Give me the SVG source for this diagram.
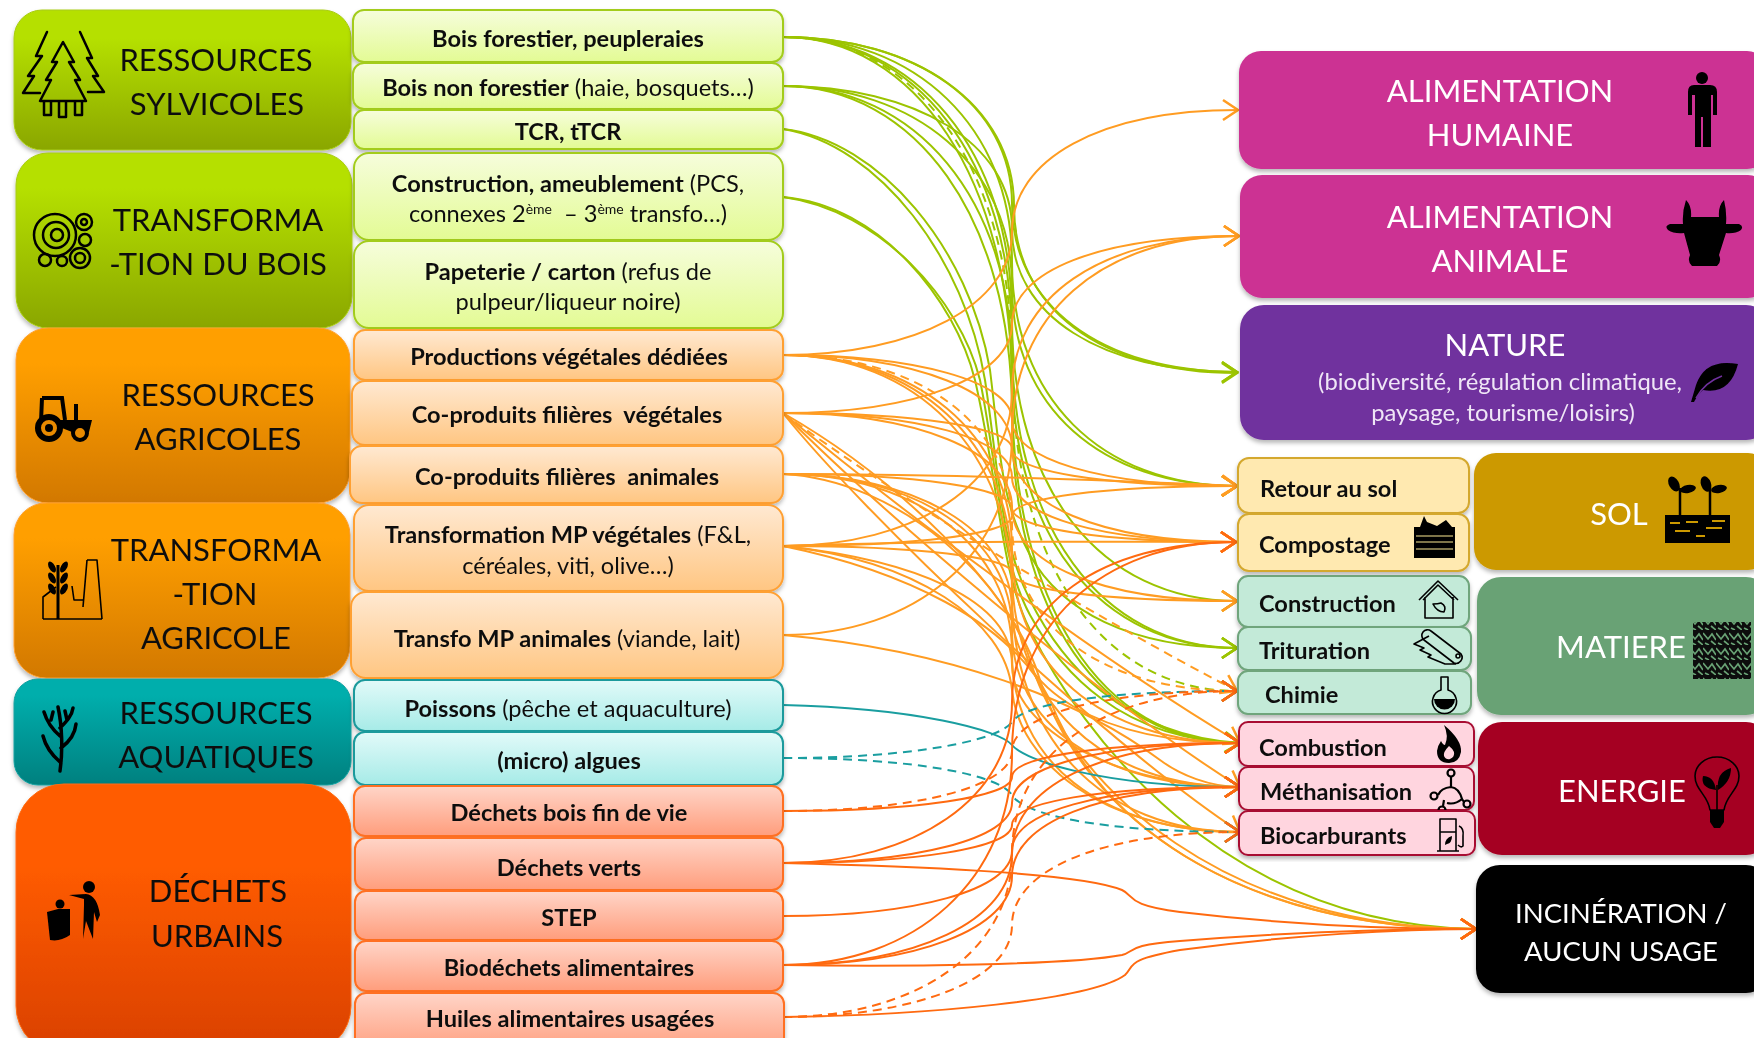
<svg xmlns="http://www.w3.org/2000/svg" width="1754" height="1038" viewBox="0 0 1754 1038">
<style>
text{font-family:"Lato","Noto Sans",sans-serif;fill:#111}
.t{font-size:31px;text-anchor:middle}
.w{font-size:31px;text-anchor:middle;fill:#fff}
.i{font-size:27.5px}
.m{font-size:23.6px;text-anchor:middle;white-space:pre}
.b{font-weight:700}
.s{font-size:23.6px;font-weight:700}
.n{font-size:23.8px;text-anchor:middle;fill:#efe6f6}
.sup{font-size:14px}
.c{fill:none;stroke-width:2}
.g{stroke:#9cc400;marker-end:url(#ag)}
.o{stroke:#ff9c22;marker-end:url(#ao)}
.r{stroke:#ff6a10;marker-end:url(#ar)}
.e{stroke:#1a9ea0;marker-end:url(#ae)}
.d{stroke-dasharray:9 6}
.sh{filter:url(#sh)}
.k{fill:#000}
.l{fill:none;stroke:#000;stroke-width:2.5;stroke-linecap:round;stroke-linejoin:round}
.l2{fill:none;stroke:#000;stroke-width:1.6;stroke-linejoin:round}
</style>
<defs>
<filter id="sh" x="-5%" y="-10%" width="110%" height="125%"><feDropShadow dx="0" dy="3" stdDeviation="2" flood-color="#000" flood-opacity=".28"/></filter>
<linearGradient id="fg" x1="0" y1="0" x2="0" y2="1"><stop offset=".2" stop-color="#b5e000"/><stop offset="1" stop-color="#8aa600"/></linearGradient>
<linearGradient id="fo" x1="0" y1="0" x2="0" y2="1"><stop offset=".2" stop-color="#ff9f00"/><stop offset="1" stop-color="#d27800"/></linearGradient>
<linearGradient id="ft" x1="0" y1="0" x2="0" y2="1"><stop offset=".15" stop-color="#00aeac"/><stop offset="1" stop-color="#00807f"/></linearGradient>
<linearGradient id="fr" x1="0" y1="0" x2="0" y2="1"><stop offset=".3" stop-color="#ff5c00"/><stop offset="1" stop-color="#d94000"/></linearGradient>
<linearGradient id="lg" x1="0" y1="0" x2="0" y2="1"><stop offset="0" stop-color="#f6fddc"/><stop offset="1" stop-color="#e3fb94"/></linearGradient>
<linearGradient id="lo" x1="0" y1="0" x2="0" y2="1"><stop offset="0" stop-color="#ffe9d2"/><stop offset="1" stop-color="#ffc682"/></linearGradient>
<linearGradient id="lt" x1="0" y1="0" x2="0" y2="1"><stop offset="0" stop-color="#e2faf9"/><stop offset="1" stop-color="#a6ebe7"/></linearGradient>
<linearGradient id="lr" x1="0" y1="0" x2="0" y2="1"><stop offset="0" stop-color="#ffd5c8"/><stop offset="1" stop-color="#ff9d7c"/></linearGradient>
<marker id="ag" markerUnits="userSpaceOnUse" markerWidth="22" markerHeight="26" refX="18" refY="12" orient="auto"><path d="M3 2L18 12L3 22" fill="none" stroke="#9cc400" stroke-width="2.5"/></marker>
<marker id="ao" markerUnits="userSpaceOnUse" markerWidth="22" markerHeight="26" refX="18" refY="12" orient="auto"><path d="M3 2L18 12L3 22" fill="none" stroke="#ff9c22" stroke-width="2.5"/></marker>
<marker id="ar" markerUnits="userSpaceOnUse" markerWidth="22" markerHeight="26" refX="18" refY="12" orient="auto"><path d="M3 2L18 12L3 22" fill="none" stroke="#ff6a10" stroke-width="2.5"/></marker>
<marker id="ae" markerUnits="userSpaceOnUse" markerWidth="22" markerHeight="26" refX="18" refY="12" orient="auto"><path d="M3 2L18 12L3 22" fill="none" stroke="#1a9ea0" stroke-width="2.5"/></marker>
<pattern id="tex" width="13" height="15" patternUnits="userSpaceOnUse"><rect width="13" height="15" fill="#0b0b0b"/><path d="M0 3L5 9L9 4L13 10M2 13L6 15M8 11L13 15" fill="none" stroke="#69a274" stroke-width="1.7"/></pattern>
</defs>

<g id="connectors">
<g class="c">
<path class="g" d="M783 37C915 37 1012 104 1012 204S1100 372 1237 372"/>
<path class="g" d="M783 37C915 37 1014 104 1014 206S1100 373 1237 373"/>
<path class="g" d="M783 86C915 86 1012 143 1012 229S1100 372 1237 372"/>
<path class="g" d="M783 37C915 37 1012 127 1012 262S1100 486 1237 486"/>
<path class="g" d="M783 86C915 86 1012 166 1012 286S1100 486 1237 486"/>
<path class="g" d="M783 37C915 37 1012 150 1012 319S1100 601 1237 601"/>
<path class="g" d="M783 37C915 37 1012 159 1012 342S1100 648 1237 648"/>
<path class="g" d="M783 86C915 86 1012 198 1012 367S1100 648 1237 648"/>
<path class="g" d="M783 129C880 140 970 250 990 370C1000 450 1000 500 1030 555S1130 648 1237 648"/>
<path class="g" d="M783 37C915 37 1012 178 1012 390S1100 743 1240 743"/>
<path class="g" d="M783 86C915 86 1012 217 1012 414S1100 743 1240 743"/>
<path class="g" d="M783 129C880 145 965 260 985 380C1000 480 1000 540 1030 600S1120 735 1240 743"/>
<path class="g" d="M783 197C880 210 960 300 980 380C1000 480 1000 560 1030 615S1120 740 1240 743"/>
<path class="g d" d="M783 37C915 37 1012 168 1012 364S1100 691 1237 691"/>
<path class="g" d="M783 197C880 205 955 300 975 380C1000 490 1000 570 1030 630C1080 730 1220 925 1476 929"/>
<path class="o" d="M783 355C915 355 1012 305 1012 232S1100 110 1238 110"/>
<path class="o" d="M783 355C915 355 1012 381 1012 420S1100 486 1237 486"/>
<path class="o" d="M783 355C915 355 1012 392 1012 448S1100 542 1236 542"/>
<path class="o d" d="M783 355C915 355 1012 422 1012 523S1100 691 1237 691"/>
<path class="o" d="M783 355C915 355 1012 433 1012 549S1100 743 1240 743"/>
<path class="o" d="M783 355C915 355 1012 441 1012 571S1100 787 1240 787"/>
<path class="o" d="M783 355C915 355 1012 450 1012 593S1100 832 1240 832"/>
<path class="o" d="M783 413C915 413 1012 377 1012 324S1100 236 1239 236"/>
<path class="o" d="M783 413C915 413 1012 427 1012 449S1100 486 1237 486"/>
<path class="o" d="M783 413C915 413 1012 438 1012 477S1100 542 1236 542"/>
<path class="o" d="M783 413C915 413 1012 451 1012 507S1100 601 1237 601"/>
<path class="o d" d="M783 413C900 500 1100 620 1237 691"/>
<path class="o" d="M783 413C900 510 1100 660 1240 743"/>
<path class="o" d="M783 413C880 510 1100 700 1240 787"/>
<path class="o" d="M783 413C860 510 1100 740 1240 832"/>
<path class="o" d="M783 474C950 474 1100 480 1237 486"/>
<path class="o" d="M783 474C915 474 1012 488 1012 508S1100 542 1236 542"/>
<path class="o" d="M783 474C915 474 1012 530 1012 610S1100 743 1240 743"/>
<path class="o" d="M783 474C915 474 1012 536 1012 630S1100 787 1240 787"/>
<path class="o" d="M783 474C915 474 1012 546 1012 653S1100 832 1240 832"/>
<path class="o" d="M783 546C915 546 1012 484 1012 391S1100 236 1239 236"/>
<path class="o" d="M783 546C915 546 1012 534 1012 516S1100 486 1237 486"/>
<path class="o" d="M783 546C950 540 1100 542 1236 542"/>
<path class="o" d="M783 546C915 546 1012 557 1012 573S1100 601 1237 601"/>
<path class="o" d="M783 546C915 560 1012 600 1012 665S1120 787 1240 787"/>
<path class="o" d="M783 546C915 560 1005 620 1012 690S1100 832 1240 832"/>
<path class="o" d="M783 635C915 635 1012 555 1012 435S1100 236 1239 236"/>
<path class="o" d="M783 635C950 650 1080 700 1160 760C1180 775 1210 787 1240 787"/>
<path class="o" d="M783 413C900 480 1010 590 1030 660C1070 790 1230 929 1476 929"/>
<path class="o" d="M783 474C900 480 1010 580 1040 680C1085 820 1240 929 1476 929"/>
<path class="o" d="M783 546C900 570 1010 620 1050 700C1100 830 1250 929 1476 929"/>
<path class="e" d="M783 705C915 708 1000 730 1012 745S1100 787 1240 787"/>
<path class="e d" d="M783 758C915 758 1000 740 1012 722S1100 691 1237 691"/>
<path class="e d" d="M783 758C915 758 1000 775 1012 795S1100 832 1240 832"/>
<path class="r" d="M783 811C915 811 1012 797 1012 777S1100 743 1240 743"/>
<path class="r d" d="M783 811C915 811 1012 787 1012 751S1100 691 1237 691"/>
<path class="r" d="M783 863C915 863 1012 798 1012 702S1100 542 1236 542"/>
<path class="r" d="M783 863C915 863 1012 839 1012 803S1100 743 1240 743"/>
<path class="r" d="M783 863C915 863 1012 848 1012 825S1100 787 1240 787"/>
<path class="r" d="M783 863C900 866 1080 872 1122 890C1135 896 1125 905 1180 912C1290 925 1400 929 1476 929"/>
<path class="r" d="M783 916C915 916 1012 890 1012 851S1100 787 1240 787"/>
<path class="r" d="M783 965C915 965 1012 880 1012 753S1100 542 1236 542"/>
<path class="r" d="M783 965C915 965 1012 921 1012 854S1100 743 1240 743"/>
<path class="r" d="M783 965C915 965 1012 929 1012 876S1100 787 1240 787"/>
<path class="r" d="M783 965C900 967 1070 965 1122 955C1135 952 1125 945 1180 941C1290 932 1400 929 1476 929"/>
<path class="r" d="M783 1017C930 1015 1090 1000 1125 975C1135 965 1125 960 1180 950C1290 935 1400 929 1476 929"/>
<path class="r d" d="M783 1017C915 1017 1012 952 1012 854S1100 691 1237 691"/>
<path class="r d" d="M783 1017C915 1017 1012 980 1012 925S1100 832 1240 832"/>
</g>
</g>

<g id="src-sylvicoles" class="sh">
<rect x="14" y="10" width="337" height="140" rx="28" fill="url(#fg)" stroke="#a8cc10"/>
<path class="l" d="M47 32L36 56L42 56L28 76L34 76L23 93L40 93M80 32L92 58L87 58L98 76L93 76L104 92L88 92M63 42L52 62L57 62L46 80L51 80L40 101H86L75 80L80 80L69 62L74 62ZM44 102V115H51V102M59 102V117H66V102M75 102V115H82V102"/>
<text class="t" x="216" y="71">RESSOURCES</text><text class="t" x="217" y="115">SYLVICOLES</text>
</g>
<g id="src-transfo-bois" class="sh">
<rect x="16" y="153" width="336" height="175" rx="32" fill="url(#fg)" stroke="#a8cc10"/>
<g class="l"><circle cx="55" cy="235" r="21"/><circle cx="56" cy="235" r="13"/><circle cx="57" cy="235" r="6"/><circle cx="84" cy="222" r="8"/><circle cx="84" cy="222" r="3"/><circle cx="85" cy="240" r="6"/><circle cx="45" cy="260" r="6"/><circle cx="62" cy="261" r="5"/><circle cx="80" cy="258" r="10"/><circle cx="80" cy="258" r="5"/></g>
<text class="t" x="218" y="231">TRANSFORMA</text><text class="t" x="218" y="275">-TION DU BOIS</text>
</g>
<g id="src-agricoles" class="sh">
<rect x="16" y="328" width="334" height="175" rx="32" fill="url(#fo)" stroke="#ffa030"/>
<path class="k" d="M38 420H92L89 432H72L62 428L38 428Z"/><rect class="k" x="74" y="404" width="4" height="18"/>
<path d="M42 398H62L65 420M42 398L41 422" fill="none" stroke="#000" stroke-width="4"/>
<circle cx="49" cy="428" r="11" fill="#e88a00" stroke="#000" stroke-width="6"/><circle class="k" cx="49" cy="428" r="4"/>
<circle cx="80" cy="433" r="7" fill="#e88a00" stroke="#000" stroke-width="4"/>
<text class="t" x="218" y="406">RESSOURCES</text><text class="t" x="218" y="450">AGRICOLES</text>
</g>
<g id="src-transfo-agri" class="sh">
<rect x="14" y="503" width="336" height="175" rx="32" fill="url(#fo)" stroke="#ffa030"/>
<path class="l2" d="M43 619V597L56 587M43 619H102M87 560H97L102 619M87 560L83 607M72 586L74 600H83"/>
<path d="M58 619V565" stroke="#000" stroke-width="3"/>
<g class="k"><ellipse cx="52" cy="567" rx="3" ry="6" transform="rotate(-30 52 567)"/><ellipse cx="64" cy="567" rx="3" ry="6" transform="rotate(30 64 567)"/><ellipse cx="52" cy="578" rx="3" ry="6" transform="rotate(-30 52 578)"/><ellipse cx="64" cy="578" rx="3" ry="6" transform="rotate(30 64 578)"/><ellipse cx="52" cy="589" rx="3" ry="6" transform="rotate(-30 52 589)"/><ellipse cx="64" cy="589" rx="3" ry="6" transform="rotate(30 64 589)"/></g>
<text class="t" x="216" y="561">TRANSFORMA</text><text class="t" x="215" y="605">-TION</text><text class="t" x="216" y="649">AGRICOLE</text>
</g>
<g id="src-aquatiques" class="sh">
<rect x="14" y="679" width="337" height="106" rx="24" fill="url(#ft)" stroke="#10a0a0"/>
<path d="M60 771C63 750 62 725 58 707M60 762C52 755 46 748 43 736M61 748C69 742 75 735 76 724M60 736C53 730 47 722 44 712M60 728C66 722 72 716 73 708M51 720L53 712M67 720L65 711" fill="none" stroke="#000" stroke-width="3.5" stroke-linecap="round"/>
<text class="t" x="216" y="724">RESSOURCES</text><text class="t" x="216" y="768">AQUATIQUES</text>
</g>
<g id="src-dechets" class="sh">
<rect x="16" y="784" width="335" height="270" rx="48" fill="url(#fr)" stroke="#ff6a10"/>
<circle class="k" cx="89" cy="887" r="6"/><path class="k" d="M69 895L86 894Q97 895 100 915L97 922L94 912L93 939L86 921L83 939L84 905L84 899Z"/>
<circle class="k" cx="60" cy="904" r="4.5"/><path class="k" d="M47 912L58 909H70V935Q60 942 50 940Z"/>
<text class="t" x="218" y="902">DÉCHETS</text><text class="t" x="217" y="947">URBAINS</text>
</g>

<g id="b-bois-forestier" class="sh"><rect x="353" y="10" width="430" height="52" rx="11" fill="url(#lg)" stroke="#a3cc1e" stroke-width="2"/><text class="m b" x="568" y="47">Bois forestier, peupleraies</text></g>
<g id="b-bois-non-forestier" class="sh"><rect x="353" y="63" width="430" height="46" rx="11" fill="url(#lg)" stroke="#a3cc1e" stroke-width="2"/><text class="m" x="568" y="96"><tspan class="b">Bois non forestier</tspan> (haie, bosquets…)</text></g>
<g id="b-tcr" class="sh"><rect x="354" y="110" width="429" height="39" rx="10" fill="url(#lg)" stroke="#a3cc1e" stroke-width="2"/><text class="m b" x="568" y="140">TCR, tTCR</text></g>
<g id="b-construction" class="sh"><rect x="354" y="153" width="429" height="87" rx="15" fill="url(#lg)" stroke="#a3cc1e" stroke-width="2"/><text class="m" x="568" y="192"><tspan class="b">Construction, ameublement</tspan> (PCS,</text><text class="m" x="568" y="222">connexes 2<tspan class="sup" dy="-8">ème</tspan><tspan dy="8">  – 3</tspan><tspan class="sup" dy="-8">ème</tspan><tspan dy="8"> transfo…)</tspan></text></g>
<g id="b-papeterie" class="sh"><rect x="354" y="241" width="429" height="87" rx="15" fill="url(#lg)" stroke="#a3cc1e" stroke-width="2"/><text class="m" x="568" y="280"><tspan class="b">Papeterie / carton</tspan> (refus de</text><text class="m" x="568" y="310">pulpeur/liqueur noire)</text></g>
<g id="b-prod-vegetales" class="sh"><rect x="354" y="330" width="429" height="50" rx="11" fill="url(#lo)" stroke="#ffa033" stroke-width="2"/><text class="m b" x="569" y="365">Productions végétales dédiées</text></g>
<g id="b-coprod-veg" class="sh"><rect x="352" y="381" width="431" height="64" rx="13" fill="url(#lo)" stroke="#ffa033" stroke-width="2"/><text class="m b" x="567" y="423">Co-produits filières  végétales</text></g>
<g id="b-coprod-ani" class="sh"><rect x="350" y="446" width="433" height="57" rx="12" fill="url(#lo)" stroke="#ffa033" stroke-width="2"/><text class="m b" x="567" y="485">Co-produits filières  animales</text></g>
<g id="b-transfo-veg" class="sh"><rect x="354" y="505" width="429" height="86" rx="15" fill="url(#lo)" stroke="#ffa033" stroke-width="2"/><text class="m" x="568" y="543"><tspan class="b">Transformation MP végétales</tspan> (F&amp;L,</text><text class="m" x="568" y="574">céréales, viti, olive…)</text></g>
<g id="b-transfo-ani" class="sh"><rect x="351" y="592" width="432" height="86" rx="15" fill="url(#lo)" stroke="#ffa033" stroke-width="2"/><text class="m" x="567" y="647"><tspan class="b">Transfo MP animales</tspan> (viande, lait)</text></g>
<g id="b-poissons" class="sh"><rect x="354" y="680" width="429" height="51" rx="11" fill="url(#lt)" stroke="#1a9a9c" stroke-width="2"/><text class="m" x="568" y="717"><tspan class="b">Poissons</tspan> (pêche et aquaculture)</text></g>
<g id="b-algues" class="sh"><rect x="354" y="732" width="429" height="53" rx="11" fill="url(#lt)" stroke="#1a9a9c" stroke-width="2"/><text class="m b" x="569" y="769">(micro) algues</text></g>
<g id="b-dechets-bois" class="sh"><rect x="354" y="786" width="429" height="50" rx="11" fill="url(#lr)" stroke="#ff7020" stroke-width="2"/><text class="m b" x="569" y="821">Déchets bois fin de vie</text></g>
<g id="b-dechets-verts" class="sh"><rect x="355" y="838" width="428" height="52" rx="11" fill="url(#lr)" stroke="#ff7020" stroke-width="2"/><text class="m b" x="569" y="876">Déchets verts</text></g>
<g id="b-step" class="sh"><rect x="355" y="891" width="428" height="49" rx="11" fill="url(#lr)" stroke="#ff7020" stroke-width="2"/><text class="m b" x="569" y="926">STEP</text></g>
<g id="b-biodechets" class="sh"><rect x="355" y="941" width="428" height="50" rx="11" fill="url(#lr)" stroke="#ff7020" stroke-width="2"/><text class="m b" x="569" y="976">Biodéchets alimentaires</text></g>
<g id="b-huiles" class="sh"><rect x="355" y="993" width="429" height="60" rx="11" fill="url(#lr)" stroke="#ff7020" stroke-width="2"/><text class="m b" x="570" y="1027">Huiles alimentaires usagées</text></g>

<g id="alim-humaine" class="sh"><rect x="1239" y="51" width="530" height="118" rx="22" fill="#cc3393"/>
<text class="w" x="1500" y="102">ALIMENTATION</text><text class="w" x="1500" y="146">HUMAINE</text>
<circle class="k" cx="1702" cy="78" r="6"/><path class="k" d="M1694 85H1710Q1717 85 1717 92V115H1713V95H1711V147H1703V117H1701V147H1695V95H1692V115H1688V92Q1688 85 1694 85Z"/></g>
<g id="alim-animale" class="sh"><rect x="1240" y="175" width="530" height="123" rx="22" fill="#cc3393"/>
<text class="w" x="1500" y="228">ALIMENTATION</text><text class="w" x="1500" y="272">ANIMALE</text>
<path class="k" d="M1686 200Q1692 206 1691 217H1719Q1718 206 1724 200Q1727 212 1726 224H1739Q1744 226 1741 230Q1735 234 1726 233L1719 255Q1722 262 1717 266H1692Q1687 262 1690 255L1684 233Q1674 234 1668 230Q1664 226 1670 224H1683Q1682 212 1686 200Z"/></g>
<g id="nature" class="sh"><rect x="1240" y="305" width="530" height="135" rx="24" fill="#70309e"/>
<text class="w" x="1505" y="356">NATURE</text><text class="n" x="1500" y="390">(biodiversité, régulation climatique,</text><text class="n" x="1503" y="421">paysage, tourisme/loisirs)</text>
<path class="k" d="M1738 364Q1705 358 1696 385Q1694 392 1691 402L1694 402Q1698 394 1703 390Q1730 395 1738 364Z"/><path d="M1696 398Q1705 382 1722 376" fill="none" stroke="#70309e" stroke-width="1.5"/></g>

<g id="retour-sol" class="sh"><rect x="1238" y="458" width="231" height="55" rx="11" fill="#ffe9b0" stroke="#d4a82e" stroke-width="2"/><text class="s" x="1260" y="497">Retour au sol</text></g>
<g id="compostage" class="sh"><rect x="1238" y="514" width="231" height="57" rx="11" fill="#ffe9b0" stroke="#d4a82e" stroke-width="2"/><text class="s" x="1259" y="553">Compostage</text>
<rect class="k" x="1414" y="527" width="41" height="31"/><path d="M1416 536H1453M1416 542H1453M1416 549H1453" stroke="#a89a60" stroke-width="1.5"/><path class="k" d="M1420 527L1424 516L1427 522L1437 526L1446 520L1452 527Z"/></g>
<g id="sol" class="sh"><rect x="1474" y="453" width="296" height="117" rx="22" fill="#cc9900"/><text class="w" x="1619" y="525">SOL</text>
<rect class="k" x="1665" y="515" width="65" height="28"/><path d="M1670 523H1680M1686 522H1698M1706 528H1722M1675 531H1690M1696 536H1705M1712 521H1725" stroke="#cc9900" stroke-width="2"/>
<path d="M1680 516V488M1710 516V488" stroke="#000" stroke-width="2.5"/>
<g class="k"><ellipse cx="1674" cy="484" rx="5" ry="8" transform="rotate(-30 1674 484)"/><ellipse cx="1688" cy="489" rx="8" ry="4" transform="rotate(-10 1688 489)"/><ellipse cx="1706" cy="484" rx="5" ry="8" transform="rotate(-20 1706 484)"/><ellipse cx="1719" cy="489" rx="8" ry="4" transform="rotate(-10 1719 489)"/></g></g>

<g id="construction" class="sh"><rect x="1238" y="576" width="231" height="51" rx="10" fill="#c3ead8" stroke="#6fa57c" stroke-width="2"/><text class="s" x="1259" y="612">Construction</text>
<path class="l2" d="M1419 600L1438 581L1458 600M1423 600L1438 585L1454 600M1425 597V618H1453V597M1433 604Q1437 612 1444 612Q1447 606 1441 603Q1438 604 1433 604Z"/></g>
<g id="trituration" class="sh"><rect x="1238" y="627" width="233" height="43" rx="10" fill="#c3ead8" stroke="#6fa57c" stroke-width="2"/><text class="s" x="1259" y="659">Trituration</text>
<path class="l2" d="M1431 631L1461 654A6 6 0 0 1 1454 663L1424 640A5 5 0 0 1 1431 631M1429 636L1414 644L1424 648L1420 650L1431 655L1428 657L1445 664H1456"/><circle class="l2" cx="1458" cy="656" r="2"/></g>
<g id="chimie" class="sh"><rect x="1238" y="671" width="233" height="43" rx="10" fill="#c3ead8" stroke="#6fa57c" stroke-width="2"/><text class="s" x="1265" y="703">Chimie</text>
<path class="l2" d="M1441 677V690A12 12 0 1 0 1448 690V677Z"/><path class="k" d="M1434 699H1455A10 10 0 0 1 1434 699Z"/></g>
<g id="matiere" class="sh"><rect x="1477" y="577" width="293" height="138" rx="24" fill="#69a274"/><text class="w" x="1621" y="658">MATIERE</text><rect x="1693" y="622" width="58" height="57" fill="url(#tex)"/></g>

<g id="combustion" class="sh"><rect x="1239" y="722" width="235" height="44" rx="9" fill="#ffd5df" stroke="#a80c32" stroke-width="2"/><text class="s" x="1259" y="756">Combustion</text>
<path class="k" fill-rule="evenodd" d="M1444 725Q1462 740 1461 752Q1459 763 1449 763Q1437 763 1437 751Q1438 745 1441 741Q1443 745 1445 745Q1449 736 1444 725ZM1449 746Q1443 752 1444 756Q1446 760 1450 759Q1455 757 1454 752Q1453 749 1449 746Z"/></g>
<g id="methanisation" class="sh"><rect x="1239" y="767" width="235" height="43" rx="9" fill="#ffd5df" stroke="#a80c32" stroke-width="2"/><text class="s" x="1260" y="800">Méthanisation</text>
<g fill="none" stroke="#000" stroke-width="2.2"><circle cx="1451" cy="773" r="3.5"/><circle cx="1434" cy="796" r="3.5"/><circle cx="1467" cy="804" r="3.5"/><circle cx="1442" cy="810" r="3.5"/><path d="M1451 777V787M1438 795Q1441 788 1451 787Q1459 788 1462 799L1464 802M1443 806L1444 800M1447 803Q1455 805 1462 799"/></g></g>
<g id="biocarburants" class="sh"><rect x="1239" y="811" width="236" height="44" rx="9" fill="#ffd5df" stroke="#a80c32" stroke-width="2"/><text class="s" x="1260" y="844">Biocarburants</text>
<g class="l2"><path d="M1440 851V819H1456V851M1437 851H1459M1440 832H1456M1459 826Q1464 828 1463 836V846Q1461 848 1458 845"/></g><path class="k" d="M1445 845Q1445 838 1452 836Q1452 843 1447 844Z"/></g>
<g id="energie" class="sh"><rect x="1478" y="722" width="292" height="133" rx="24" fill="#a50021"/><text class="w" x="1622" y="802">ENERGIE</text>
<path class="l2" d="M1710 810C1708 795 1695 790 1695 776A22 19 0 0 1 1739 776C1739 790 1726 795 1724 810Z"/><path class="k" d="M1710 810H1724V822L1720 828H1714L1710 822Z"/><path d="M1717 810V785" stroke="#000" stroke-width="1.6"/><path class="k" d="M1716 790Q1700 788 1703 776Q1714 776 1716 790ZM1718 790Q1731 782 1731 768Q1716 772 1718 790Z"/></g>
<g id="incineration" class="sh"><rect x="1476" y="865" width="294" height="128" rx="24" fill="#000"/><text class="w i" x="1621" y="923">INCINÉRATION /</text><text class="w i" x="1621" y="961">AUCUN USAGE</text></g>
</svg>
